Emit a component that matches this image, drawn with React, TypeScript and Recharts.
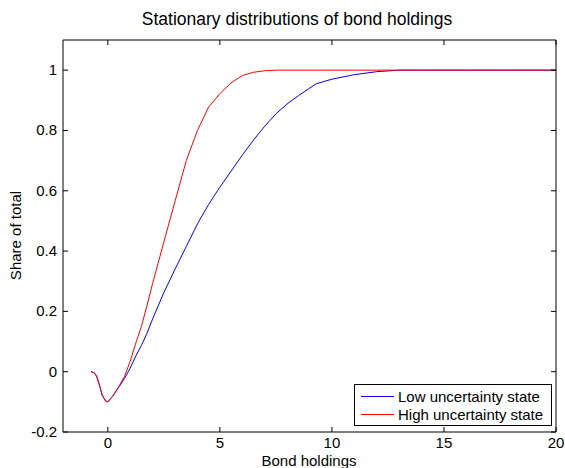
import React from 'react'
import { LineChart, Line, XAxis, YAxis, Legend } from 'recharts'

// bond holdings grid and the two stationary distributions
const bondGrid = [
  -0.75, -0.6, -0.5, -0.35, -0.25, -0.1, 0, 0.25, 0.5, 0.75, 1, 1.25, 1.5, 1.75, 2, 2.5, 3, 3.5, 4,
  4.5, 5, 5.5, 6, 6.5, 7, 7.5, 8, 8.5, 9, 9.3, 10, 11, 12, 13, 14, 16, 18, 20,
]
const lowUncertainty = [
  0, -0.004, -0.015, -0.05, -0.078, -0.097, -0.1, -0.078, -0.05, -0.022, 0.012, 0.052, 0.087, 0.128, 0.175,
  0.262, 0.34, 0.415, 0.49, 0.555, 0.612, 0.665, 0.718, 0.768, 0.814, 0.855, 0.888, 0.915, 0.94, 0.955, 0.97,
  0.985, 0.995, 1, 1, 1, 1, 1,
]
const highUncertainty = [
  0, -0.004, -0.015, -0.05, -0.078, -0.097, -0.1, -0.078, -0.048, -0.015, 0.035, 0.095, 0.15, 0.22, 0.293,
  0.43, 0.565, 0.7, 0.8, 0.878, 0.922, 0.958, 0.982, 0.993, 0.998, 1, 1, 1, 1, 1, 1, 1, 1, 1, 1, 1, 1, 1,
]
const seriesOrder = ['Low uncertainty state', 'High uncertainty state']
const xTicks = [0, 5, 10, 15, 20]
const yTicks = [-0.2, 0, 0.2, 0.4, 0.6, 0.8, 1]

const data = bondGrid.map((b, i) => ({
  bond: b,
  low: lowUncertainty[i],
  high: highUncertainty[i],
}))

const font = '"Liberation Sans", Arial, sans-serif'
const fontSize = 15

// MATLAB style ticks point into the axes box
const BottomTick = ({ x, y, payload }: any) => (
  <g>
    <line x1={x} y1={y} x2={x} y2={y - 5} stroke="#000" />
    <text x={x} y={y + 16} textAnchor="middle" fontFamily={font} fontSize={fontSize} fill="#000">
      {payload.value}
    </text>
  </g>
)
const TopTick = ({ x, y }: any) => <line x1={x} y1={y} x2={x} y2={y + 5} stroke="#000" />
const LeftTick = ({ x, y, payload }: any) => (
  <g>
    <line x1={x} y1={y} x2={x + 5} y2={y} stroke="#000" />
    <text x={x - 6} y={y + 5} textAnchor="end" fontFamily={font} fontSize={fontSize} fill="#000">
      {payload.value}
    </text>
  </g>
)
const RightTick = ({ x, y }: any) => <line x1={x} y1={y} x2={x - 5} y2={y} stroke="#000" />

const LegendBox = ({ payload }: any) => {
  const items = [...(payload || [])].sort(
    (a: any, b: any) => seriesOrder.indexOf(a.value) - seriesOrder.indexOf(b.value)
  )
  return (
    <div
      style={{
        border: '1px solid #000',
        background: '#fff',
        width: 196,
        padding: '2px 0',
        fontFamily: font,
        fontSize,
        color: '#000',
      }}
    >
      {items.map((p: any) => (
        <div key={p.value} style={{ display: 'flex', alignItems: 'center', height: 18 }}>
          <span style={{ display: 'inline-block', width: 33, height: 0, borderTop: `1px solid ${p.color}`, margin: '0 4px 0 6px' }} />
          <span>{p.value}</span>
        </div>
      ))}
    </div>
  )
}

export default function App() {
  return (
    <div style={{ position: 'absolute', left: 0, top: 0, width: 565, height: 468, background: '#fff', overflow: 'hidden' }}>
      <div
        style={{
          position: 'absolute', left: 0, top: 9, width: 594, textAlign: 'center',
          fontFamily: font, fontSize: 17.5, color: '#000',
        }}
      >
        Stationary distributions of bond holdings
      </div>
      <div
        style={{
          position: 'absolute', left: 0, top: 453, width: 618, textAlign: 'center',
          fontFamily: font, fontSize, lineHeight: '15px', color: '#000',
        }}
      >
        Bond holdings
      </div>
      <div style={{ position: 'absolute', left: 15, top: 236, width: 0, height: 0 }}>
        <div
          style={{
            position: 'absolute', left: -100, top: -9, width: 200, textAlign: 'center',
            transform: 'rotate(-90deg)', fontFamily: font, fontSize, color: '#000', whiteSpace: 'nowrap',
          }}
        >
          Share of total
        </div>
      </div>
      <LineChart
        width={565}
        height={468}
        data={data}
        margin={{ top: 39, right: 8, bottom: 35, left: 62 }}
        style={{ position: 'absolute', left: 0, top: 0 }}
      >
        <XAxis
          xAxisId="bottom"
          dataKey="bond"
          type="number"
          domain={[-2, 20]}
          ticks={xTicks}
          interval={0}
          height={1}
          tickSize={0}
          tickMargin={0}
          tick={<BottomTick />}
          axisLine={{ stroke: '#000' }}
          allowDataOverflow
        />
        <XAxis
          xAxisId="top"
          orientation="top"
          dataKey="bond"
          type="number"
          domain={[-2, 20]}
          ticks={xTicks}
          interval={0}
          height={1}
          tickSize={0}
          tickMargin={0}
          tick={<TopTick />}
          axisLine={{ stroke: '#000' }}
          allowDataOverflow
        />
        <YAxis
          yAxisId="left"
          type="number"
          domain={[-0.2, 1.1]}
          ticks={yTicks}
          interval={0}
          width={1}
          tickSize={0}
          tickMargin={0}
          tick={<LeftTick />}
          axisLine={{ stroke: '#000' }}
          allowDataOverflow
        />
        <YAxis
          yAxisId="right"
          orientation="right"
          type="number"
          domain={[-0.2, 1.1]}
          ticks={yTicks}
          interval={0}
          width={1}
          tickSize={0}
          tickMargin={0}
          tick={<RightTick />}
          axisLine={{ stroke: '#000' }}
          allowDataOverflow
        />
        <Line
          xAxisId="bottom"
          yAxisId="left"
          type="linear"
          dataKey="low"
          name="Low uncertainty state"
          stroke="#0000ff"
          strokeWidth={1}
          dot={false}
          isAnimationActive={false}
        />
        <Line
          xAxisId="bottom"
          yAxisId="left"
          type="linear"
          dataKey="high"
          name="High uncertainty state"
          stroke="#ff0000"
          strokeWidth={1}
          dot={false}
          isAnimationActive={false}
        />
        <Legend
          layout="vertical"
          align="center"
          verticalAlign="middle"
          content={<LegendBox />}
          wrapperStyle={{ position: 'absolute', left: 354, top: 384, width: 198, bottom: 'auto', right: 'auto' }}
        />
      </LineChart>
    </div>
  )
}
